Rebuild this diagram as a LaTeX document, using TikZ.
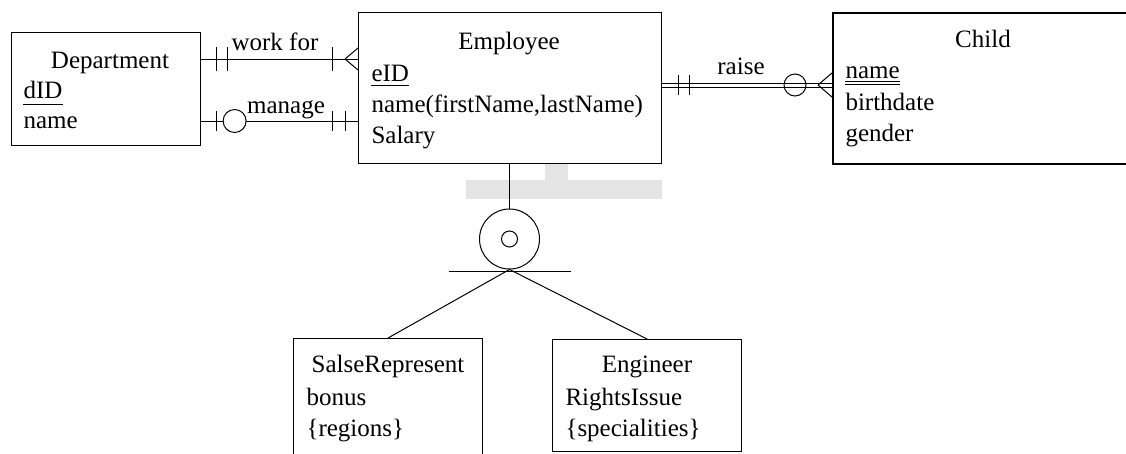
\documentclass[tikz,border=0pt]{standalone}
\usepackage{fontspec}
\setmainfont{Liberation Serif}
\begin{document}
\begin{tikzpicture}[x=1pt,y=-1pt,line width=1pt,
  ent/.style={draw,line width=1.1pt,inner sep=0pt,anchor=north west},
  weak/.style={ent,line width=2.2pt},
  txt/.style={inner sep=0pt,font=\fontsize{25}{30}\selectfont},
  ttl/.style={txt,anchor=base},
  attr/.style={txt,anchor=base west},
  ring/.style={circle,draw,inner sep=0pt}]
\useasboundingbox (0,0) rectangle (1126,453);
\clip (0,0) rectangle (1126,453);

% faint background mark
\fill[black!10] (545,163) rectangle (568,180);
\fill[black!10] (466,180) rectangle (662,199);

% entities
\node[ent,minimum width=189pt,minimum height=113pt] (dept) at (11,32) {};
\node[ent,minimum width=303pt,minimum height=151pt] (emp) at (358,12) {};
\node[weak,minimum width=302pt,minimum height=151pt] (child) at (832,12) {};
\node[ent,minimum width=189pt,minimum height=135pt] (sal) at (293,338) {};
\node[ent,minimum width=189pt,minimum height=112pt] (eng) at (552,339) {};

% Department
\node[ttl] at (110,68) {Department};
\node[attr] (did) at (23,98) {dID};
\draw ([yshift=-6pt]did.base west) -- ([yshift=-6pt]did.base east);
\node[attr] at (23,128) {name};

% Employee
\node[ttl] at (509,49) {Employee};
\node[attr] (eid) at (371,81) {eID};
\draw ([yshift=-4pt]eid.base west) -- ([yshift=-4pt]eid.base east);
\node[attr] at (371,112) {name(firstName,lastName)};
\node[attr] at (371,143) {Salary};

% Child
\node[ttl] at (983,47) {Child};
\node[attr] (cname) at (845,78) {name};
\draw[line width=0.9pt] ([yshift=-3pt]cname.base west) -- ([yshift=-3pt]cname.base east)
      ([yshift=-6pt]cname.base west) -- ([yshift=-6pt]cname.base east);
\node[attr] at (845,110) {birthdate};
\node[attr] at (845,141) {gender};

% SalseRepresent
\node[ttl] at (388,372) {SalseRepresent};
\node[attr] at (306,405) {bonus};
\node[attr] at (306,436) {\{regions\}};

% Engineer
\node[ttl] at (647,372) {Engineer};
\node[attr] at (565,405) {RightsIssue};
\node[attr] at (565,436) {\{specialities\}};

% work for
\coordinate (wfa) at (dept.east |- 0,59);
\coordinate (wfb) at (emp.west |- 0,59);
\draw (wfa) -- (wfb);
\draw ([xshift=15pt]wfa) ++(0,-12) -- ++(0,24);
\draw ([xshift=26pt]wfa) ++(0,-12) -- ++(0,24);
\draw ([xshift=-26pt]wfb) ++(0,-12) -- ++(0,24);
\draw ([xshift=-13pt]wfb) -- ++(13,-11) ([xshift=-13pt]wfb) -- ++(13,11);
\node[ttl] at (275,50) {work for};

% manage
\coordinate (ma) at (dept.east |- 0,121);
\coordinate (mb) at (emp.west |- 0,121);
\draw (ma) -- (mb);
\draw ([xshift=15pt]ma) ++(0,-10) -- ++(0,20);
\node[ring,fill=white,minimum size=23pt] (mo) at ([xshift=33.5pt]ma) {};
\draw ([xshift=-26pt]mb) ++(0,-10) -- ++(0,20);
\draw ([xshift=-13pt]mb) ++(0,-10) -- ++(0,20);
\node[ttl] at (286,113) {manage};

% raise
\coordinate (ra) at (emp.east |- 0,85);
\coordinate (rb) at (child.west |- 0,85);
\draw[double,double distance=3pt,line width=1pt] (ra) -- (rb);
\draw ([xshift=16pt]ra) ++(0,-10) -- ++(0,20);
\draw ([xshift=27pt]ra) ++(0,-10) -- ++(0,20);
\node[ring,minimum size=22pt] (ro) at (795,85) {};
\draw ([xshift=-14pt]rb) -- ++(14,-12) ([xshift=-14pt]rb) -- ++(14,12);
\node[ttl] at (741,74) {raise};

% specialisation
\node[ring,minimum size=60pt] (isa) at (509.5,239) {};
\node[ring,minimum size=16pt] (isain) at (isa.center) {};
\draw (isa.north |- emp.south) -- (isa.north);
\draw ([xshift=-61pt,yshift=-2pt]isa.south) -- ([xshift=61pt,yshift=-2pt]isa.south);
\draw (isa.south) -- (sal.north);
\draw (isa.south) -- (eng.north);
\end{tikzpicture}
\end{document}
